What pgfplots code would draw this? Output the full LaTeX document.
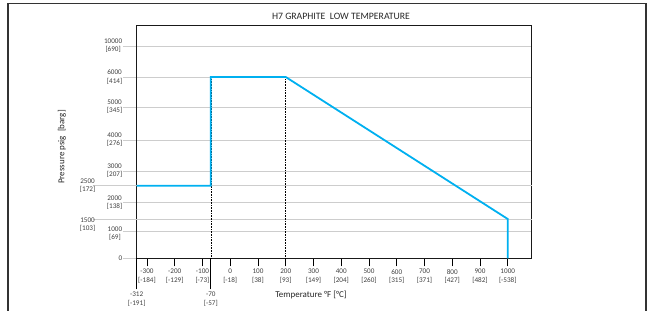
\documentclass[border=0pt]{standalone}
\usepackage{pgfplots}
\pgfplotsset{compat=1.18}
\usepackage{fontspec}
\setmainfont{Carlito}
\definecolor{lineblue}{RGB}{0,176,240}
\definecolor{gridgray}{RGB}{205,205,205}
\definecolor{labgray}{RGB}{64,64,64}
\begin{document}
\begin{tikzpicture}[x=1bp,y=1bp]
\useasboundingbox (0,0) rectangle (651,310);
\draw[line width=1.3bp, black!80] (8,-3) -- (8,306.7) -- (646,306.7) -- (646,-3);
\begin{axis}[
  at={(136.7bp,51.7bp)}, anchor=south west,
  scale only axis, width=395bp, height=233.3bp,
  /pgf/number format/assume math mode=true,
  x coord trafo/.code={\pgfmathparse{(#1<-300)?(-300+(#1+300)*3.0833):(#1)}},
  y coord trafo/.code={\pgfmathparse{(#1<=1000)?(#1*0.0273):((#1<=1500)?(27.3+(#1-1000)*0.024):((#1<=2000)?(39.3+(#1-1500)*0.0334):((#1<=2500)?(56+(#1-2000)*0.0332):((#1<=3000)?(72.6+(#1-2500)*0.0294):((#1<=4000)?(87.3+(#1-3000)*0.031):((#1<=5000)?(118.3+(#1-4000)*0.033):((#1<=6000)?(151.3+(#1-5000)*0.03):(181.3+(#1-6000)*0.00775))))))))}},
  xmin=-312, xmax=1086.3, ymin=0, ymax=12710,
  axis line style={black!90, line width=0.9bp},
  tick align=outside,
  xtick pos=bottom, ytick pos=left,
  xtick={-300,-200,-100,0,100,200,300,400,500,600,700,800,900,1000},
  xticklabels={\shortstack{-300\\{[-184]}},\shortstack{-200\\{[-129]}},\shortstack{-100\\{[-73]}},\shortstack{0\\{[-18]}},\shortstack{100\\{[38]}},\shortstack{200\\{[93]}},\shortstack{300\\{[149]}},\shortstack{400\\{[204]}},\shortstack{500\\{[260]}},\shortstack{600\\{[315]}},\shortstack{700\\{[371]}},\shortstack{800\\{[427]}},\shortstack{900\\{[482]}},\shortstack{1000\\{[-538]}}},
  extra x ticks={-312,-70},
  extra x tick labels={\shortstack{-312\\{[-191]}},\shortstack{-70\\{[-57]}}},
  xtick style={black, line width=0.9bp, /pgfplots/major tick length=8bp},
  extra x tick style={xtick style={/pgfplots/major tick length=31bp}, xticklabel style={yshift=-23bp}},
  ytick={0,1000,2000,3000,4000,5000,6000,10000},
  yticklabels={0,\shortstack{\rule{0pt}{3bp}\\1000\\{[69]}},\shortstack{2000\\{[138]}},\shortstack{3000\\{[207]}},\shortstack{4000\\{[276]}},\shortstack{5000\\{[345]}},\shortstack{6000\\{[414]}},\shortstack{10000\\{[690]}}},
  extra y ticks={1500,2500},
  extra y tick labels={\shortstack{\rule{0pt}{8bp}\\1500\\{[103]}},\shortstack{2500\\{[172]}}},
  ytick style={gridgray, line width=0.8bp, /pgfplots/major tick length=14bp},
  extra y tick style={ytick style={/pgfplots/major tick length=44bp}, grid=major, yticklabel style={xshift=-27bp}},
  ymajorgrids, 
  major grid style={gridgray, line width=0.8bp},
  tick label style={font=\fontsize{7.2}{8}\selectfont, text=labgray},
  xticklabel style={inner sep=1.5bp, yshift=-5bp},
  yticklabel style={inner sep=1.5bp, xshift=-8.5bp},
  xlabel={Temperature °F [°C]},
  xlabel style={at={(311bp-136.7bp,0)}, anchor=center, yshift=-36.7bp, font=\fontsize{9}{10}\selectfont, text=black!85},
  ylabel={Pressure psig\ \ [barg]},
  ylabel style={at={(62bp-136.7bp,111.3bp)}, anchor=center, rotate=0, font=\fontsize{9}{10}\selectfont, text=black!85},
  clip=false,
]
\addplot[black, densely dotted, line width=0.6bp] coordinates {(-70,0) (-70,6000)};
\addplot[black, densely dotted, line width=0.6bp] coordinates {(200,0) (200,6000)};
\addplot[lineblue, line width=1.8bp] coordinates {(-312,2500) (-70,2500) (-70,6000) (200,6000) (1000,1500) (1000,0)};
\end{axis}
\node[font=\fontsize{9.8}{11}\selectfont, text=black!85] at (341,294) {H7 GRAPHITE\ \ LOW TEMPERATURE};
\end{tikzpicture}
\end{document}
